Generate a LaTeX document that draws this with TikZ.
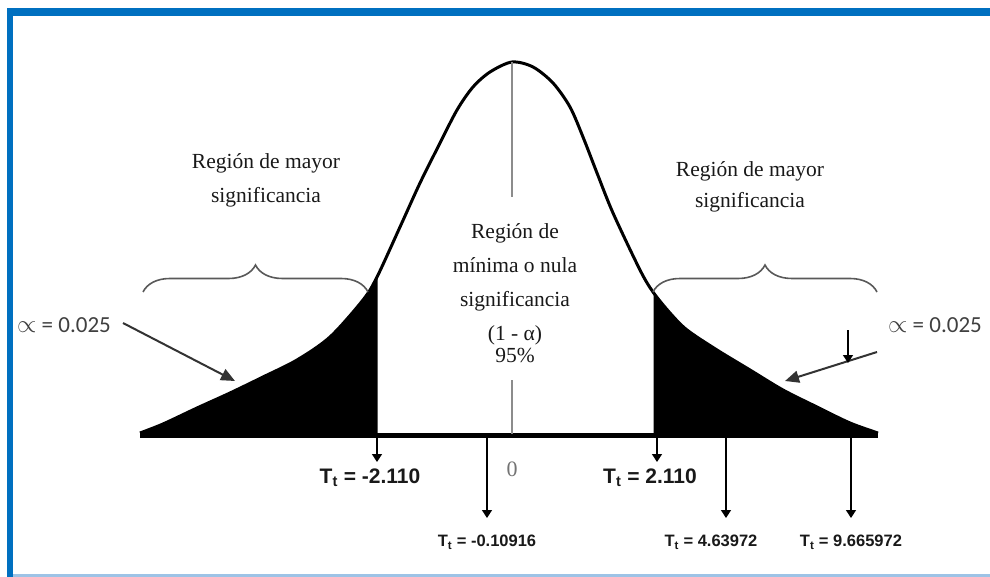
\documentclass[tikz,border=0pt]{standalone}
\usepackage{fontspec}
\setmainfont{Liberation Serif}
\newfontfamily\arialfont{Liberation Sans}
\newfontfamily\califont{Carlito}
\usetikzlibrary{arrows.meta,decorations.pathreplacing}
\definecolor{frameblue}{HTML}{0070C0}
\definecolor{framelight}{HTML}{9DC3E6}
\begin{document}
\begin{tikzpicture}[x=1pt,y=-1pt,
  regionlbl/.style={font=\fontsize{21.5}{34}\selectfont, align=center, text=black!90, inner sep=0pt},
  tbig/.style={font=\arialfont\bfseries\fontsize{21}{24}\selectfont, inner sep=1pt, text=black!90},
  tsmall/.style={font=\arialfont\bfseries\fontsize{16.5}{20}\selectfont, inner sep=1pt, text=black!90},
  alphalbl/.style={font=\califont\fontsize{23}{26}\selectfont, text=black!75, inner sep=0pt},
  tarrow/.style={-{Triangle[length=8pt,width=10pt]}, line width=1.4pt},
  alphaarrow/.style={-{Triangle[length=14pt,width=12pt]}, line width=2pt, draw=black!80},
  bracestyle/.style={decorate, decoration={brace,amplitude=27pt,aspect=0.5}, draw=black!65, line width=1.6pt},
  centerline/.style={draw=black!45, line width=1.4pt}]
\useasboundingbox (0,0) rectangle (990,577);
\fill[white] (0,0) rectangle (990,577);
% frame
\fill[frameblue] (7,8) rectangle (990,16);
\fill[frameblue] (7,8) rectangle (13,577);
\fill[framelight] (13,574) rectangle (990,577);

% shaded tails
\begin{scope}
\clip (139,0) rectangle (377.5,440) (653.5,0) rectangle (880,440);
\fill[black] plot[smooth,tension=0.5] coordinates {(140,433) (163,424) (197,408) (230,393) (263,377) (297,360) (330,337) (363,300) (377,277) (400,227) (420,183) (438,147) (457,110) (473,87) (490,72) (512,62) (533,67) (553,83) (570,107) (583,137) (597,173) (613,213) (640,270) (653,292) (670,313) (687,330) (717,350) (750,370) (783,390) (817,407) (850,423) (878,433)} -- cycle;
\end{scope}
% curve
\draw[line width=3pt, line join=round] plot[smooth,tension=0.5] coordinates {(140,433) (163,424) (197,408) (230,393) (263,377) (297,360) (330,337) (363,300) (377,277) (400,227) (420,183) (438,147) (457,110) (473,87) (490,72) (512,62) (533,67) (553,83) (570,107) (583,137) (597,173) (613,213) (640,270) (653,292) (670,313) (687,330) (717,350) (750,370) (783,390) (817,407) (850,423) (878,433)};

% key points
\coordinate (peak) at (512,62);
\coordinate (ctop) at (512,197);
\coordinate (cbot) at (512,380);
\coordinate (base0) at (512,434);
\coordinate (bl) at (140,435);
\coordinate (br) at (878,435);
\draw[line width=5pt] (bl) -- (br);
\draw[centerline] (peak) -- (ctop);
\draw[centerline] (cbot) -- (base0);

% braces
\coordinate (lb1) at (143,292);
\coordinate (lb2) at (368,292);
\coordinate (rb1) at (653,292);
\coordinate (rb2) at (877,292);
\draw[bracestyle] (lb1) -- (lb2);
\draw[bracestyle] (rb1) -- (rb2);

% region labels
\node[regionlbl] (lreg) at (266,180) {Región de mayor\\significancia};
\node[regionlbl, font=\fontsize{21.5}{31}\selectfont] (rreg) at (750,187) {Región de mayor\\significancia};
\node[regionlbl] (creg) at (515,293) {Región de\\mínima o nula\\significancia\\(1 - α)\\[-12pt]95\%};

% alpha labels and arrows
\node[alphalbl] (la) at (64,325) {$\propto$ = 0.025};
\node[alphalbl] (ra) at (935,325) {$\propto$ = 0.025};
\coordinate (laS) at (123,323);
\coordinate (laE) at (235,381);
\coordinate (raS) at (877,352);
\coordinate (raE) at (785,381);
\draw[alphaarrow] (laS) -- (laE);
\draw[alphaarrow] (raS) -- (raE);
\coordinate (sdS) at (848,330);
\coordinate (sdE) at (848,363);
\draw[tarrow] (sdS) -- (sdE);

% T labels
\node[tbig] (tm2) at (370,478) {T\textsubscript{t} = -2.110};
\node[tbig] (tp2) at (650,478) {T\textsubscript{t} = 2.110};
\node[tsmall] (tm01) at (487,542) {T\textsubscript{t} = -0.10916};
\node[tsmall] (t46) at (711,542) {T\textsubscript{t} = 4.63972};
\node[tsmall] (t96) at (851,542) {T\textsubscript{t} = 9.665972};
\node[font=\fontsize{22}{24}\selectfont, text=black!55] (zero) at (512,469) {0};

\coordinate (am2) at (377,437);
\coordinate (ap2) at (657,437);
\coordinate (am01) at (487,437);
\coordinate (a46) at (726,437);
\coordinate (a96) at (851,437);
\coordinate (am2e) at (377,462);
\coordinate (ap2e) at (657,462);
\coordinate (am01e) at (487,518);
\coordinate (a46e) at (726,518);
\coordinate (a96e) at (851,518);
\draw[tarrow] (am2) -- (am2e);
\draw[tarrow] (ap2) -- (ap2e);
\draw[tarrow] (am01) -- (am01e);
\draw[tarrow] (a46) -- (a46e);
\draw[tarrow] (a96) -- (a96e);
\end{tikzpicture}
\end{document}
